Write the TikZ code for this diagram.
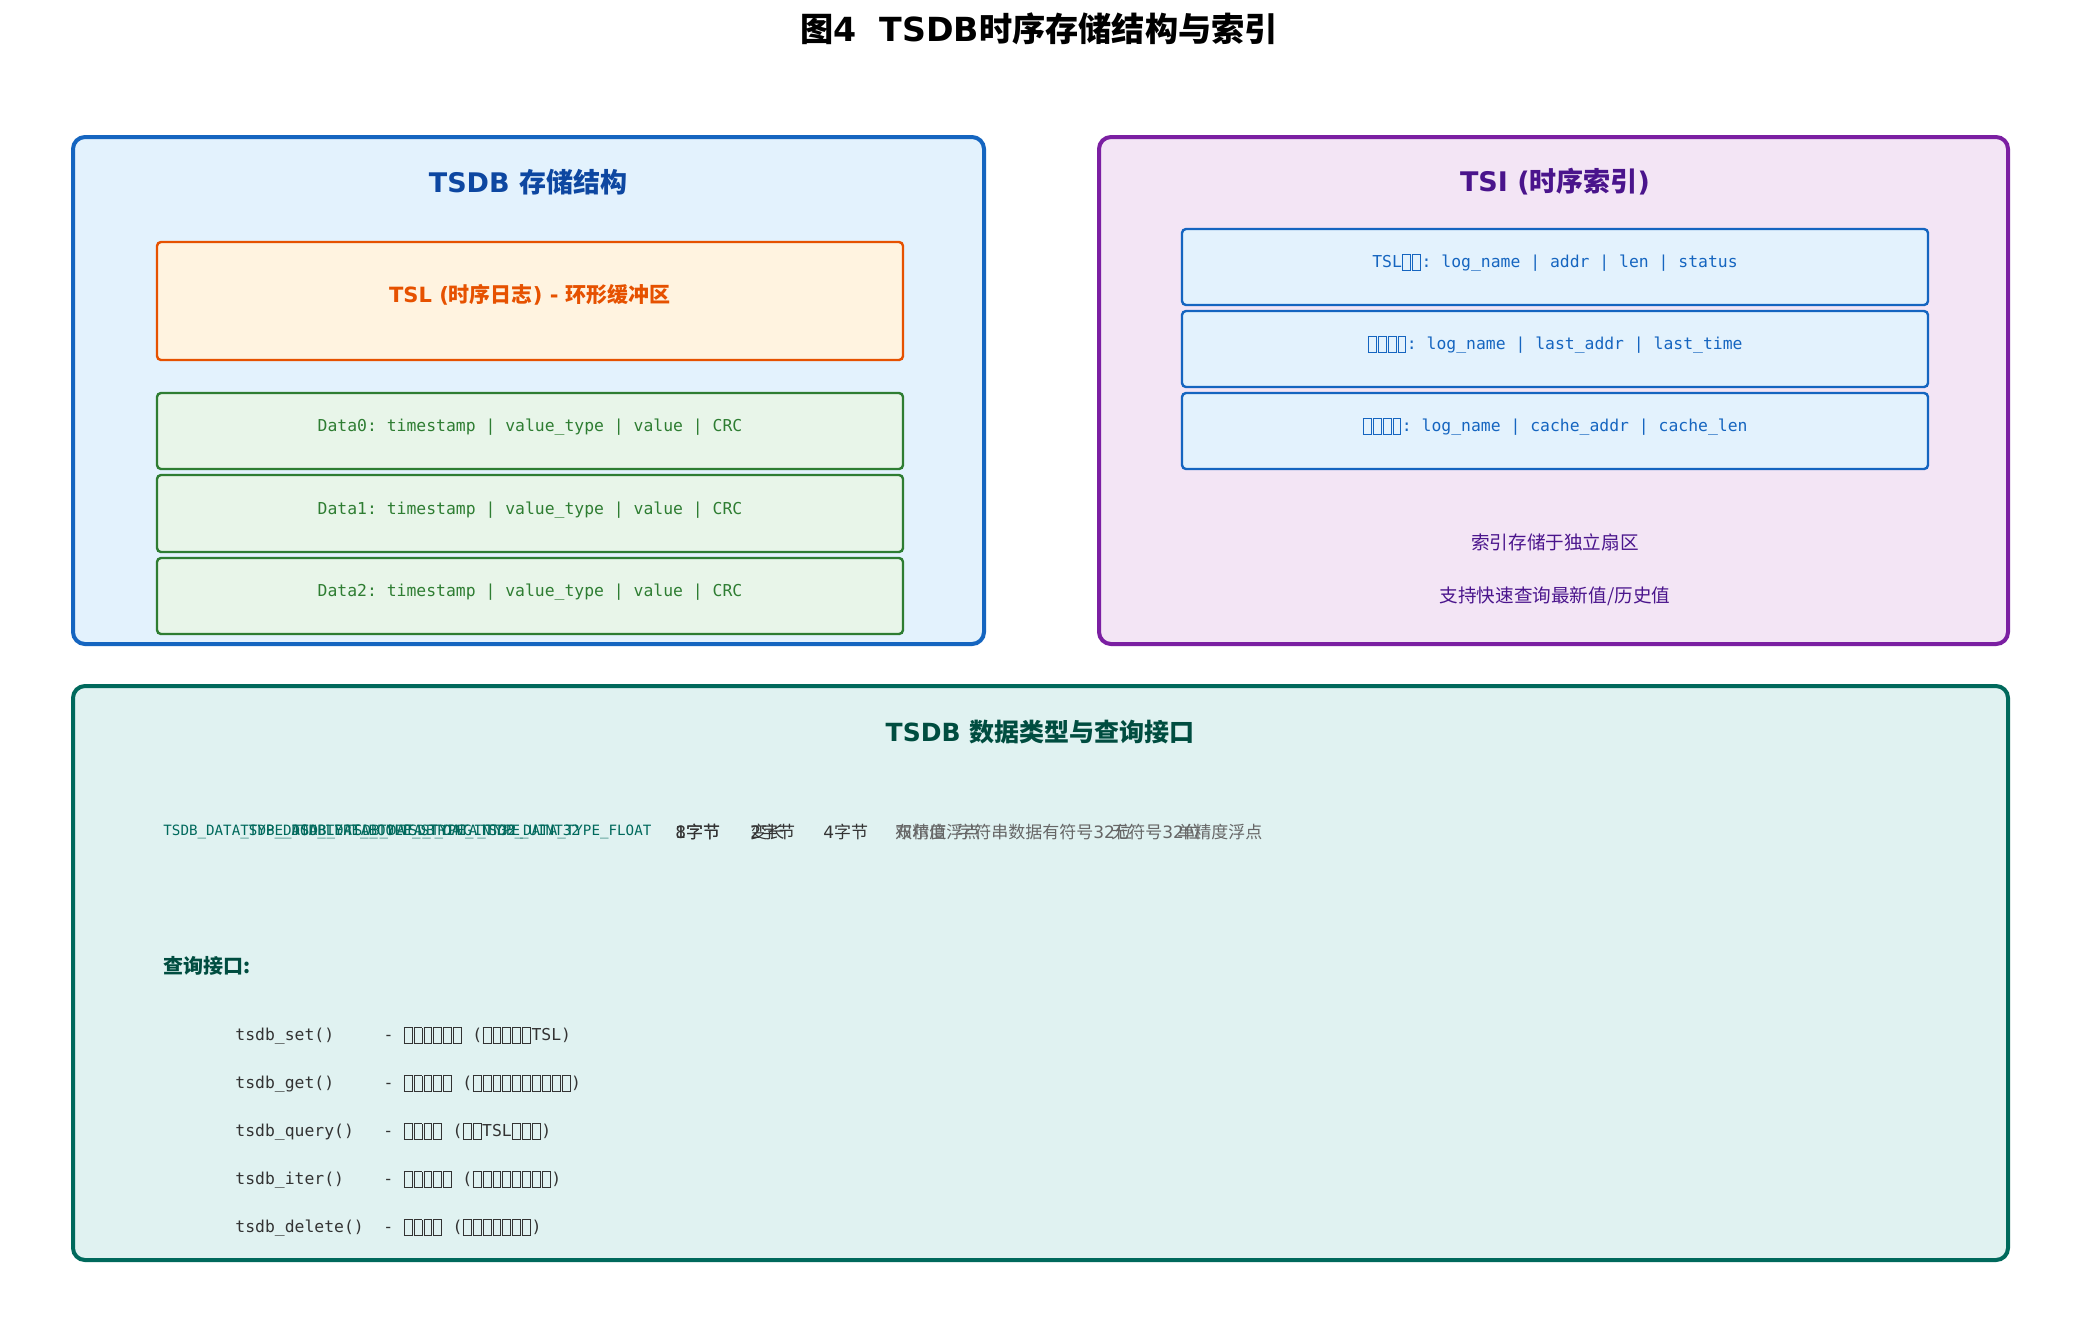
\documentclass[tikz,border=0pt]{standalone}
\usepackage{fontspec}
\setmainfont{DejaVu Sans}
\setmonofont{DejaVu Sans Mono}
\newfontfamily\zhfont{Noto Sans CJK SC}
\newcommand{\zh}[1]{{\zhfont #1}}
% missing-glyph box, one mono cell wide
\newcommand{\tf}{\makebox[0.602em][c]{\setlength{\fboxsep}{0pt}\setlength{\fboxrule}{0.06em}\raisebox{-0.15em}{\fbox{\rule{0pt}{0.92em}\rule{0.42em}{0pt}}}}}
\usepackage{xcolor}
\definecolor{tsdbblue}{HTML}{1565C0}
\definecolor{tsdbbluebg}{HTML}{E3F2FD}
\definecolor{tsdbbluedark}{HTML}{0D47A1}
\definecolor{tslorange}{HTML}{E65100}
\definecolor{tslorangebg}{HTML}{FFF3E0}
\definecolor{datagreen}{HTML}{2E7D32}
\definecolor{datagreenbg}{HTML}{E8F5E9}
\definecolor{tsipurple}{HTML}{7B1FA2}
\definecolor{tsipurplebg}{HTML}{F3E5F5}
\definecolor{tsipurpledark}{HTML}{4A148C}
\definecolor{apiteal}{HTML}{00695C}
\definecolor{apitealbg}{HTML}{E0F2F1}
\definecolor{apitealdark}{HTML}{004D40}
\definecolor{darktext}{HTML}{333333}
\definecolor{graytext}{HTML}{666666}
\tikzset{
  outerbox/.style={line width=2pt, rounded corners=6pt},
  innerbox/.style={line width=1.2pt, rounded corners=2pt},
  boxtitle/.style={inner sep=0pt, font=\fontsize{13.5}{16}\selectfont\bfseries},
  monoline/.style={inner sep=0pt, font=\fontsize{8.2}{10}\selectfont\ttfamily},
  typename/.style={inner sep=0pt, anchor=west, text=apiteal, font=\fontsize{7.1}{9}\selectfont\ttfamily},
  typesize/.style={inner sep=0pt, anchor=west, text=darktext, font=\fontsize{8.5}{10}\selectfont},
  typedesc/.style={inner sep=0pt, anchor=west, text=graytext, font=\fontsize{8.5}{10}\selectfont},
}

\begin{document}
\begin{tikzpicture}[x=0.5pt, y=-0.5pt]
\useasboundingbox[fill=white] (0,0) rectangle (2080,1330);

% title
\node[inner sep=0pt, font=\fontsize{16.6}{20}\selectfont\bfseries] (title) at (1039,29) {\zh{图}4\ \ TSDB\zh{时序存储结构与索引}};

% TSDB storage
\draw[outerbox, draw=tsdbblue, fill=tsdbbluebg] (73,137) rectangle (984,644);
\node[boxtitle, text=tsdbbluedark] (storetitle) at (528,182) {TSDB \zh{存储结构}};
\draw[innerbox, draw=tslorange, fill=tslorangebg] (157,242) rectangle (903,360);
\node[inner sep=0pt, text=tslorange, font=\fontsize{10.5}{12}\selectfont\bfseries] (tsl) at (530,295) {TSL (\zh{时序日志}) - \zh{环形缓冲区}};
\draw[innerbox, draw=datagreen, fill=datagreenbg] (157,393) rectangle (903,469);
\draw[innerbox, draw=datagreen, fill=datagreenbg] (157,475) rectangle (903,552);
\draw[innerbox, draw=datagreen, fill=datagreenbg] (157,558) rectangle (903,634);
\node[monoline, text=datagreen] (data0) at (530,427) {Data0: timestamp | value\_type | value | CRC};
\node[monoline, text=datagreen] (data1) at (530,510) {Data1: timestamp | value\_type | value | CRC};
\node[monoline, text=datagreen] (data2) at (530,592) {Data2: timestamp | value\_type | value | CRC};

% TSI
\draw[outerbox, draw=tsipurple, fill=tsipurplebg] (1099,137) rectangle (2008,644);
\node[boxtitle, text=tsipurpledark] (tsititle) at (1555,182) {TSI (\zh{时序索引})};
\draw[innerbox, draw=tsdbblue, fill=tsdbbluebg] (1182,229) rectangle (1928,305);
\draw[innerbox, draw=tsdbblue, fill=tsdbbluebg] (1182,311) rectangle (1928,387);
\draw[innerbox, draw=tsdbblue, fill=tsdbbluebg] (1182,393) rectangle (1928,469);
\node[monoline, text=tsdbblue] (idx0) at (1555,263) {TSL\tf\tf: log\_name | addr | len | status};
\node[monoline, text=tsdbblue] (idx1) at (1555,345) {\tf\tf\tf\tf: log\_name | last\_addr | last\_time};
\node[monoline, text=tsdbblue] (idx2) at (1555,427) {\tf\tf\tf\tf: log\_name | cache\_addr | cache\_len};
\node[inner sep=0pt, text=tsipurpledark, font=\fontsize{9.3}{11}\selectfont\zhfont] (sector) at (1555,542) {索引存储于独立扇区};
\node[inner sep=0pt, text=tsipurpledark, font=\fontsize{9.3}{11}\selectfont\zhfont] (fastq) at (1555,596) {支持快速查询最新值/历史值};

% data types and query api
\draw[outerbox, draw=apiteal, fill=apitealbg] (73,686) rectangle (2008,1260);
\node[boxtitle, text=apitealdark, font=\fontsize{12.5}{15}\selectfont\bfseries] (apititle) at (1040,732) {TSDB \zh{数据类型与查询接口}};

\node[typename] (tdouble) at (163,832) {TSDB\_DATA\_TYPE\_DOUBLE};
\node[typename] (tbool) at (240,832) {TSDB\_DATA\_TYPE\_BOOL};
\node[typename] (tstring) at (292,832) {TSDB\_DATA\_TYPE\_STRING};
\node[typename] (tint) at (345,832) {TSDB\_DATA\_TYPE\_INT32};
\node[typename] (tuint) at (400,832) {TSDB\_DATA\_TYPE\_UINT32};
\node[typename] (tfloat) at (480,832) {TSDB\_DATA\_TYPE\_FLOAT};
\node[typesize] (s8) at (675,832) {8\zh{字节}};
\node[typesize] (s1) at (675,832) {1\zh{字节}};
\node[typesize] (svar) at (750,832) {\zh{变长}};
\node[typesize] (s2) at (750,832) {2\zh{字节}};
\node[typesize] (s4) at (823,832) {4\zh{字节}};
\node[typedesc] (ddouble) at (895,832) {\zh{双精度浮点}};
\node[typedesc] (dbool) at (895,832) {\zh{布尔值}};
\node[typedesc] (dstring) at (957,832) {\zh{字符串数据}};
\node[typedesc] (dint) at (1042,832) {\zh{有符号}32\zh{位}};
\node[typedesc] (duint) at (1111,832) {\zh{无符号}32\zh{位}};
\node[typedesc] (dfloat) at (1177,832) {\zh{单精度浮点}};

\node[inner sep=0pt, anchor=west, text=apitealdark, font=\fontsize{10}{12}\selectfont\bfseries\zhfont] (apihead) at (163,966) {查询接口:};
\node[monoline, anchor=west, text=darktext] (api0) at (235,1036) {tsdb\_set()~~~~~-~\tf\tf\tf\tf\tf\tf~(\tf\tf\tf\tf\tf TSL)};
\node[monoline, anchor=west, text=darktext] (api1) at (235,1084) {tsdb\_get()~~~~~-~\tf\tf\tf\tf\tf~(\tf\tf\tf\tf\tf\tf\tf\tf\tf\tf)};
\node[monoline, anchor=west, text=darktext] (api2) at (235,1132) {tsdb\_query()~~~-~\tf\tf\tf\tf~(\tf\tf TSL\tf\tf\tf)};
\node[monoline, anchor=west, text=darktext] (api3) at (235,1180) {tsdb\_iter()~~~~-~\tf\tf\tf\tf\tf~(\tf\tf\tf\tf\tf\tf\tf\tf)};
\node[monoline, anchor=west, text=darktext] (api4) at (235,1228) {tsdb\_delete()~~-~\tf\tf\tf\tf~(\tf\tf\tf\tf\tf\tf\tf)};
\end{tikzpicture}
\end{document}
